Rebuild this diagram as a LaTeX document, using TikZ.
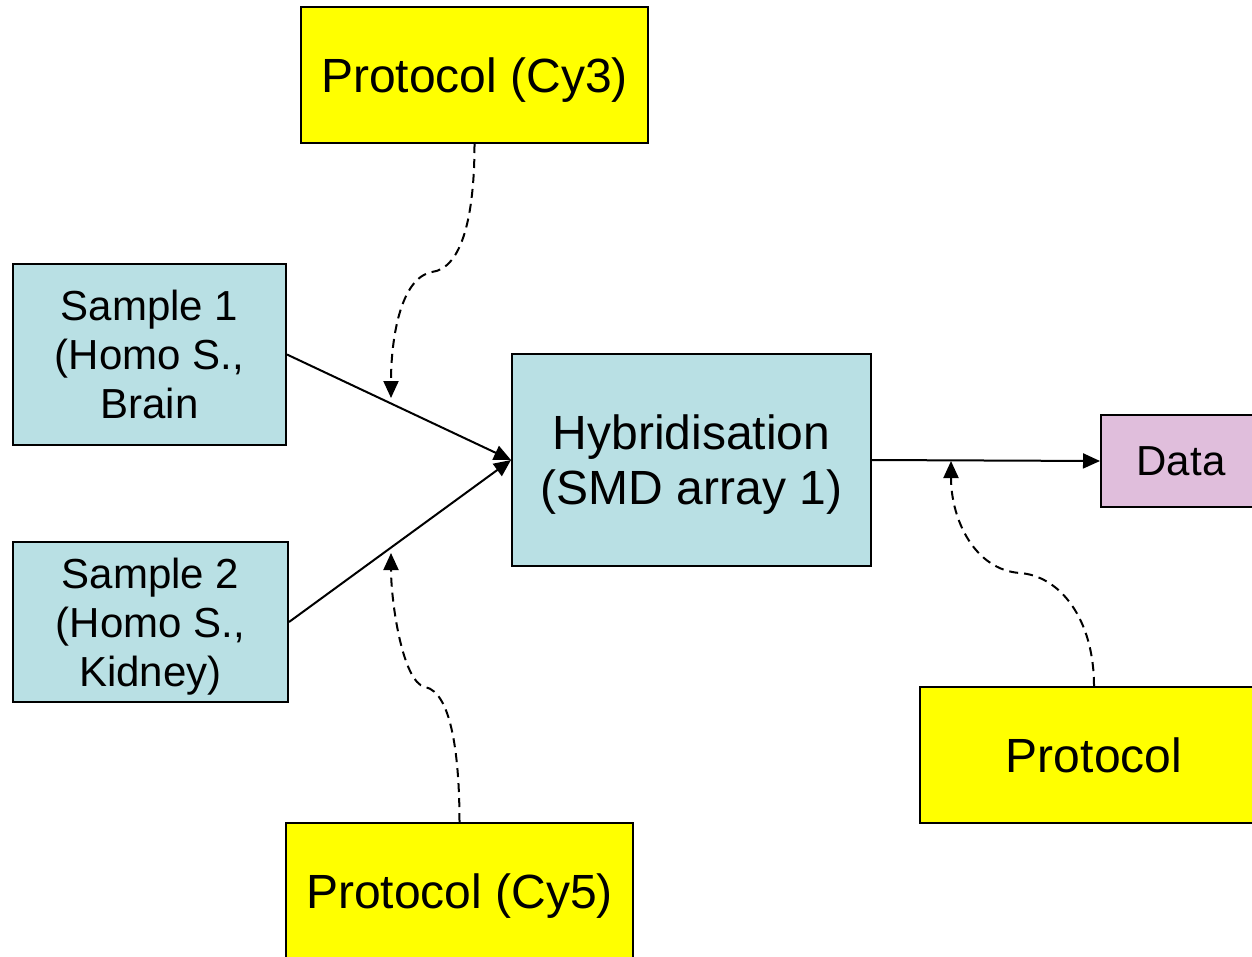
\documentclass[tikz,border=0pt]{standalone}
\usepackage{fontspec}
\setmainfont{Liberation Sans}
\usetikzlibrary{arrows.meta}
\definecolor{samplefill}{HTML}{B9E0E4}
\definecolor{datafill}{HTML}{E0BEDC}
\definecolor{protofill}{HTML}{FFFF00}
\tikzset{
  box/.style={draw=black, line width=2pt, inner sep=0pt, align=center, text depth=0pt},
  bigtext/.style={font=\fontsize{48}{55}\selectfont},
  smalltext/.style={font=\fontsize{42}{49}\selectfont},
  protocol/.style={box, fill=protofill, bigtext},
  sample/.style={box, fill=samplefill, smalltext},
  flow/.style={line width=2pt, -{Triangle[length=17pt,width=15pt]}},
  annot/.style={line width=2pt, dash pattern=on 9pt off 6pt, -{Triangle[length=17pt,width=15pt]}}
}
\begin{document}
\begin{tikzpicture}[x=1pt,y=-1pt]
\useasboundingbox (0,0) rectangle (1252,956);

% boxes
\node[protocol, minimum width=347pt, minimum height=136pt] (cy3) at (474.5,75) {Protocol (Cy3)};
\node[sample, minimum width=273pt, minimum height=181pt] (s1) at (149.5,354.5) {Sample 1\\(Homo S.,\\Brain};
\node[sample, minimum width=275pt, minimum height=160pt] (s2) at (150.5,622) {Sample 2\\(Homo S.,\\Kidney)};
\node[box, fill=samplefill, bigtext, minimum width=359pt, minimum height=212pt] (hyb) at (691.5,460) {Hybridisation\\(SMD array 1)};
\node[box, fill=datafill, smalltext, minimum width=160pt, minimum height=92pt] (data) at (1181,461) {Data};
\node[protocol, minimum width=348pt, minimum height=136pt] (prot) at (1094,755) {Protocol};
\node[protocol, minimum width=347pt, minimum height=136pt] (cy5) at (459.5,891) {Protocol (Cy5)};

% main flow
\draw[flow] (s1.east) -- (hyb.west);
\draw[flow] (s2.east) -- (hyb.west);
\draw[flow] (hyb.east) -- (data.west);

% points on the flow lines where the protocols apply
\coordinate (m1) at (391,398);
\coordinate (m2) at (391,553);
\coordinate (m3) at (951,461);

% protocol annotations
\draw[annot] (cy3.south) .. controls +(0,72) and (462,268) .. (432,272)
  .. controls (400,278) and (391,340) .. (m1);
\draw[annot] (cy5.north) .. controls +(0,-63) and (452,692) .. (425,687)
  .. controls (402,682) and (391,600) .. (m2);
\draw[annot] (prot.north) .. controls +(0,-67) and (1060,576) .. (1020,573)
  .. controls (975,570) and (951,520) .. (m3);
\end{tikzpicture}
\end{document}
